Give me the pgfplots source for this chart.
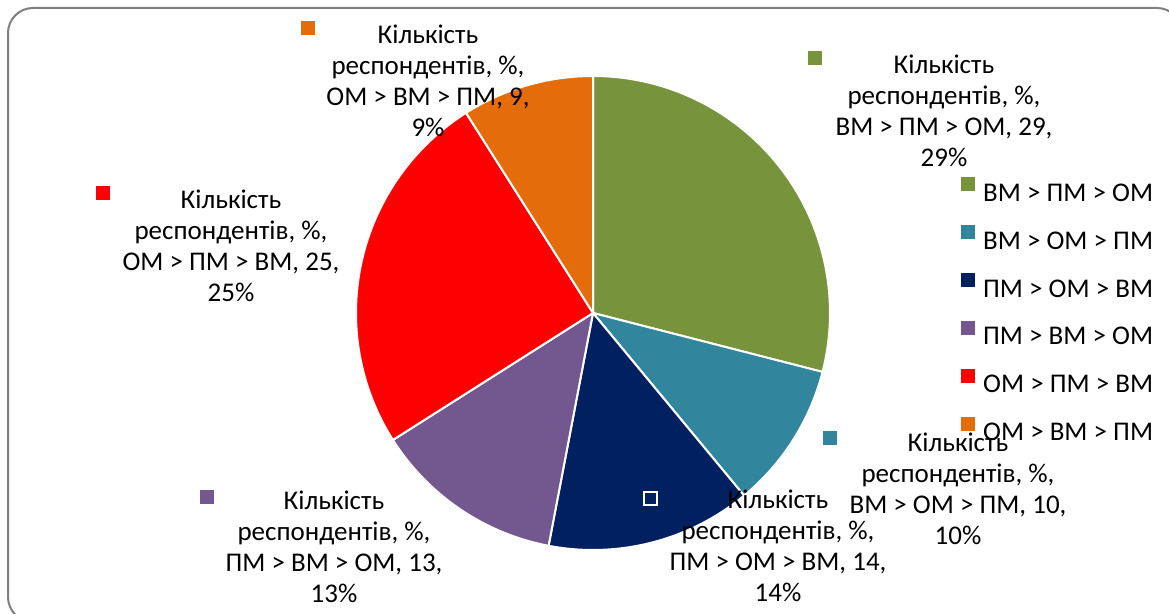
\documentclass[border=0pt]{standalone}
\usepackage{pgfplots}
\usepackage{pgfplotstable}
\pgfplotsset{compat=1.18}
\usepackage{fontspec}
\setmainfont{Carlito}

\definecolor{cGreen}{HTML}{77933C}
\definecolor{cTeal}{HTML}{31859C}
\definecolor{cNavy}{HTML}{002060}
\definecolor{cPurple}{HTML}{72588F}
\definecolor{cRed}{HTML}{FF0000}
\definecolor{cOrange}{HTML}{E46C0A}
\definecolor{frame}{HTML}{7F7F7F}

% shares of respondents, clockwise from the top
\pgfplotstableread[col sep=comma]{
order,value,colour
ВМ > ПМ > ОМ,29,cGreen
ВМ > ОМ > ПМ,10,cTeal
ПМ > ОМ > ВМ,14,cNavy
ПМ > ВМ > ОМ,13,cPurple
ОМ > ПМ > ВМ,25,cRed
ОМ > ВМ > ПМ,9,cOrange
}\piedata

\newcommand{\lblfont}{\fontsize{13.5}{15.5}\selectfont}

\begin{document}
\begin{tikzpicture}
\path[use as bounding box] (0,0) rectangle (584.5pt,307pt);
\begin{axis}[
    at={(0,0)}, anchor=south west,
    scale only axis,
    width=584.5pt, height=307pt,
    xmin=0, xmax=1169, ymin=0, ymax=614,
    hide axis, clip=false,
    legend style={draw=none, fill=none, font=\lblfont,
        at={(axis cs:961,437)}, anchor=north west,
        inner sep=0pt, row sep=12pt,
        nodes={inner sep=0pt, text height=8.5pt, text depth=0pt}},
    legend cell align=left,
    /tikz/every odd column/.append style={column sep=4pt},
    ]
    \draw[frame, line width=1pt, rounded corners=12.5pt]
        (axis cs:8,606) rectangle (axis cs:1182,-8);

    \def\cum{0}
    \pgfplotsforeachungrouped \i in {0,...,5}{%
        \pgfplotstablegetelem{\i}{value}\of\piedata
        \let\sliceval\pgfplotsretval
        \pgfplotstablegetelem{\i}{colour}\of\piedata
        \let\slicecol\pgfplotsretval
        \pgfmathsetmacro\angA{90-3.6*\cum}
        \pgfmathsetmacro\angB{90-3.6*(\cum+\sliceval)}
        \pgfmathsetmacro\cum{\cum+\sliceval}
        \edef\temp{\noexpand\fill[\slicecol, draw=white, line width=1pt]
            (axis cs:593,301) -- ++(\angA:118.5pt)
            arc[start angle=\angA, end angle=\angB, radius=118.5pt] -- cycle;}
        \temp
    }

    % data labels
    \node[font=\lblfont, align=center] at (axis cs:428,533) {Кількість\\респондентів, \%,\\ОМ > ВМ > ПМ, 9,\\9\%};
    \node[font=\lblfont, align=center] at (axis cs:944,503) {Кількість\\респондентів, \%,\\ВМ > ПМ > ОМ, 29,\\29\%};
    \node[font=\lblfont, align=center] at (axis cs:231,368) {Кількість\\респондентів, \%,\\ОМ > ПМ > ВМ, 25,\\25\%};
    \node[font=\lblfont, align=center] at (axis cs:334,67) {Кількість\\респондентів, \%,\\ПМ > ВМ > ОМ, 13,\\13\%};
    \node[font=\lblfont, align=center] at (axis cs:778,68) {Кількість\\респондентів, \%,\\ПМ > ОМ > ВМ, 14,\\14\%};
    \node[font=\lblfont, align=center] at (axis cs:958,125) {Кількість\\респондентів, \%,\\ВМ > ОМ > ПМ, 10,\\10\%};

    \addplot[forget plot, only marks, mark=square*, mark size=3.25pt, cOrange] coordinates {(308,586)};
    \addplot[forget plot, only marks, mark=square*, mark size=3.25pt, cGreen] coordinates {(815,556)};
    \addplot[forget plot, only marks, mark=square*, mark size=3.25pt, cRed] coordinates {(103,421)};
    \addplot[forget plot, only marks, mark=square*, mark size=3.25pt, cPurple] coordinates {(207,117)};
    \addplot[forget plot, only marks, mark=square*, mark size=3.25pt,
        mark options={fill=cNavy, draw=white, line width=1pt}] coordinates {(650,115)};
    \addplot[forget plot, only marks, mark=square*, mark size=3.25pt, cTeal] coordinates {(830,176)};

    \pgfplotsset{legend image code/.code={\fill[#1] (0pt,1pt) rectangle (6.5pt,7.5pt);}}
    \addlegendimage{cGreen}   \addlegendentry{ВМ > ПМ > ОМ}
    \addlegendimage{cTeal}    \addlegendentry{ВМ > ОМ > ПМ}
    \addlegendimage{cNavy}    \addlegendentry{ПМ > ОМ > ВМ}
    \addlegendimage{cPurple}  \addlegendentry{ПМ > ВМ > ОМ}
    \addlegendimage{cRed}     \addlegendentry{ОМ > ПМ > ВМ}
    \addlegendimage{cOrange}  \addlegendentry{ОМ > ВМ > ПМ}
\end{axis}
\end{tikzpicture}
\end{document}
